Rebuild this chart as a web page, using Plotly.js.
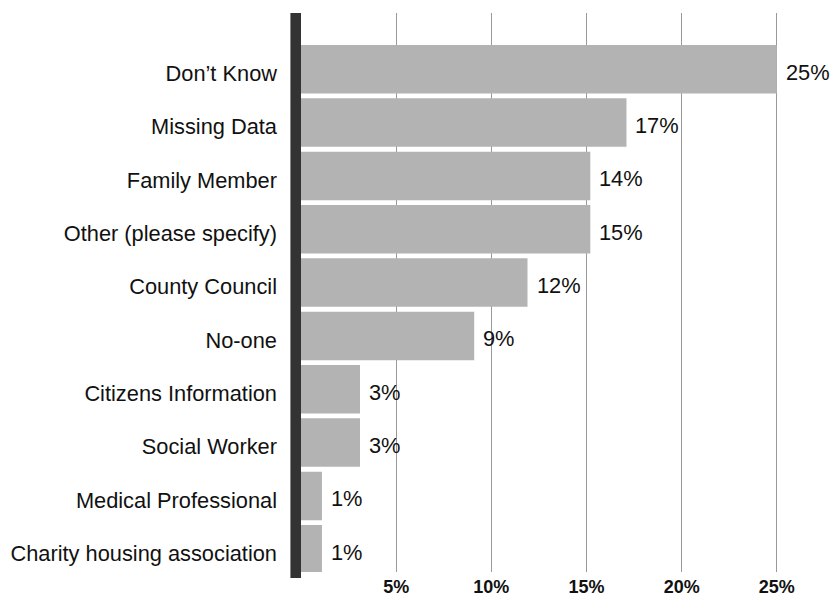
<!DOCTYPE html>
<html>
<head>
<meta charset="utf-8">
<script src="https://cdn.plot.ly/plotly-3.0.1.min.js"></script>
<style>html,body{margin:0;padding:0;background:#fff;}#chart{width:833px;height:599px;}</style>
</head>
<body>
<div id="chart"></div>
<script>
const categories = ["Don\u2019t Know","Missing Data","Family Member","Other (please specify)","County Council","No-one","Citizens Information","Social Worker","Medical Professional","Charity housing association"];
const values = [25, 17.1, 15.2, 15.2, 11.9, 9.1, 3.1, 3.1, 1.1, 1.1];
const valueLabels = ["25%","17%","14%","15%","12%","9%","3%","3%","1%","1%"];
const tickValues = [5, 10, 15, 20, 25];
const tickLabels = ["5%","10%","15%","20%","25%"];

const FONT = "Liberation Sans, Arial, Helvetica, sans-serif";

const trace = {
  type: "bar",
  orientation: "h",
  x: values,
  y: categories,
  marker: {color: "#b3b3b3", line: {width: 0}},
  hoverinfo: "none"
};

const annotations = values.map((v, i) => ({
  x: v, y: categories[i], xref: "x", yref: "y",
  text: valueLabels[i], showarrow: false,
  xanchor: "left", yanchor: "middle", xshift: 7, yshift: -3,
  font: {family: FONT, size: 21.8, color: "#111"}
}));

const layout = {
  width: 833, height: 599,
  margin: {l: 301, r: 0, t: 13, b: 27, pad: 0},
  paper_bgcolor: "#fff", plot_bgcolor: "#fff",
  showlegend: false,
  bargap: 0.09,
  font: {family: FONT, color: "#111"},
  xaxis: {
    range: [0, 27.95],
    tickmode: "array", tickvals: tickValues, ticktext: tickLabels,
    showgrid: true, gridcolor: "#999", gridwidth: 1,
    zeroline: false, showline: false, ticks: "",
    ticklabelstandoff: 2,
    tickfont: {family: FONT, size: 18, color: "#111", weight: "bold"},
    fixedrange: true
  },
  yaxis: {
    type: "category",
    range: [9.427, -1.055],
    showgrid: false, zeroline: false, showline: false, ticks: "",
    ticklabelstandoff: 23,
    ticklabelshift: -4,
    tickfont: {family: FONT, size: 21.8, color: "#111"},
    fixedrange: true
  },
  shapes: [{
    type: "rect", xref: "paper", yref: "paper",
    x0: -0.0199, x1: 0, y0: -0.0107, y1: 1,
    fillcolor: "#333", line: {width: 0}, layer: "above"
  }],
  annotations: annotations
};

Plotly.newPlot("chart", [trace], layout, {displayModeBar: false, staticPlot: true});
</script>
</body>
</html>
